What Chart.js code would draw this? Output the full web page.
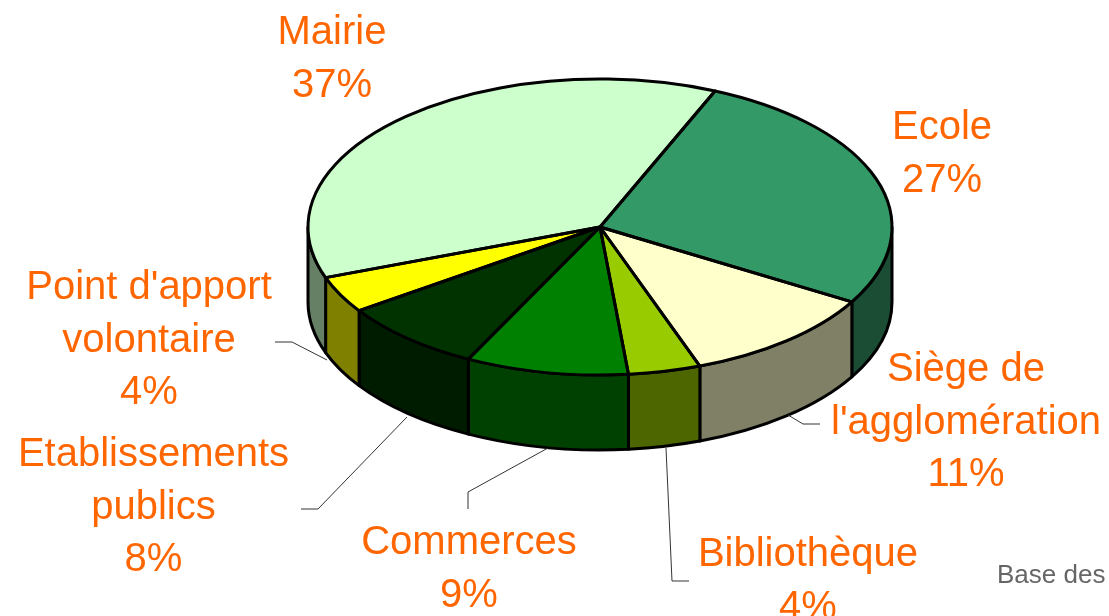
<!DOCTYPE html>
<html>
<head>
<meta charset="utf-8">
<style>
  html, body { margin: 0; padding: 0; background: #fff; overflow: hidden; }
  canvas { display: block; }
</style>
<script src="https://cdn.jsdelivr.net/npm/chart.js@4"></script>
</head>
<body>
<canvas id="chart" width="1109" height="616"></canvas>
<script>
// Données du graphique
const categories = ["Ecole", "Siège de l'agglomération", "Bibliothèque", "Commerces", "Etablissements publics", "Point d'apport volontaire", "Mairie"];
const values = [27, 11, 4, 9, 8, 4, 37];
const topColors = ["#339966", "#FFFFCC", "#99CC00", "#008000", "#003300", "#FFFF00", "#CCFFCC"];
const sideColors = ["#1A4D33", "#808066", "#4D6600", "#004000", "#001C00", "#808000", "#668066"];
const labelLines = [["Ecole", "27%"], ["Siège de", "l'agglomération", "11%"], ["Bibliothèque", "4%"], ["Commerces", "9%"], ["Etablissements", "publics", "8%"], ["Point d'apport", "volontaire", "4%"], ["Mairie", "37%"]];
const footerText = "Base des";

// Mise en page (position des étiquettes et traits de rappel)
const labelAnchors = [[942, 139], [966, 381], [808, 566], [469, 554], [153.5, 466], [149, 299], [332, 44]];
const leaderLines = [
    [[820, 424], [803, 424], [788, 415]],
    [[689, 581], [672, 581], [666, 448]],
    [[468, 509], [468, 492], [548, 448]],
    [[301, 509], [318, 509], [407, 417]],
    [[275, 342], [292, 342], [327, 360]]
];
const pie3d = { x: 600, y: 227, rx: 292, ry: 148, depth: 75 };

// Écrase le camembert en ellipse et dessine l'épaisseur
const pie3dPlugin = {
    id: "pie3d",
    beforeDatasetsDraw(chart) {
        const ctx = chart.ctx;
        const arcs = chart.getDatasetMeta(0).data;
        ctx.save();
        ctx.lineWidth = 3;
        ctx.lineJoin = "round";
        ctx.strokeStyle = "#000";
        arcs.forEach((arc, i) => {
            const a = Math.max(arc.startAngle, 0);
            const b = Math.min(arc.endAngle, Math.PI);
            if (a >= b) return;
            ctx.beginPath();
            ctx.ellipse(pie3d.x, pie3d.y, pie3d.rx, pie3d.ry, 0, a, b);
            ctx.ellipse(pie3d.x, pie3d.y + pie3d.depth, pie3d.rx, pie3d.ry, 0, b, a, true);
            ctx.closePath();
            ctx.fillStyle = sideColors[i];
            ctx.fill();
            ctx.stroke();
        });
        ctx.restore();

        const arc0 = arcs[0];
        ctx.save();
        ctx.translate(pie3d.x, pie3d.y);
        ctx.scale(1, pie3d.ry / pie3d.rx);
        ctx.translate(-arc0.x, -arc0.y);
    },
    afterDatasetsDraw(chart) {
        const ctx = chart.ctx;
        ctx.restore();

        // Contours après le restore pour garder un trait régulier
        ctx.save();
        ctx.lineWidth = 3;
        ctx.lineJoin = "round";
        ctx.strokeStyle = "#000";
        chart.getDatasetMeta(0).data.forEach((arc) => {
            ctx.beginPath();
            ctx.moveTo(pie3d.x, pie3d.y);
            ctx.ellipse(pie3d.x, pie3d.y, pie3d.rx, pie3d.ry, 0, arc.startAngle, arc.endAngle);
            ctx.closePath();
            ctx.stroke();
        });
        ctx.restore();
    },
    afterDraw(chart) {
        const ctx = chart.ctx;
        ctx.save();
        ctx.lineWidth = 1;
        ctx.strokeStyle = "#333";
        leaderLines.forEach((line) => {
            ctx.beginPath();
            line.forEach((p, i) => (i ? ctx.lineTo(p[0], p[1]) : ctx.moveTo(p[0], p[1])));
            ctx.stroke();
        });

        ctx.font = '40px "Liberation Sans"';
        ctx.fillStyle = "#FF6600";
        ctx.textAlign = "center";
        ctx.textBaseline = "alphabetic";
        labelLines.forEach((lines, i) => {
            lines.forEach((txt, j) => {
                ctx.fillText(txt, labelAnchors[i][0], labelAnchors[i][1] + j * 52.5);
            });
        });

        ctx.font = '26px "Liberation Sans"';
        ctx.fillStyle = "#666666";
        ctx.textAlign = "left";
        ctx.fillText(footerText, 997, 583);
        ctx.restore();
    }
};

new Chart(document.getElementById("chart").getContext("2d"), {
    type: "pie",
    data: {
        labels: categories,
        datasets: [
            {
                data: values,
                backgroundColor: topColors,
                borderWidth: 0
            }
        ]
    },
    options: {
        responsive: false,
        animation: false,
        rotation: 23.2,
        radius: pie3d.rx,
        layout: { padding: 0 },
        plugins: {
            legend: { display: false },
            tooltip: { enabled: false }
        }
    },
    plugins: [pie3dPlugin]
});
</script>
</body>
</html>
